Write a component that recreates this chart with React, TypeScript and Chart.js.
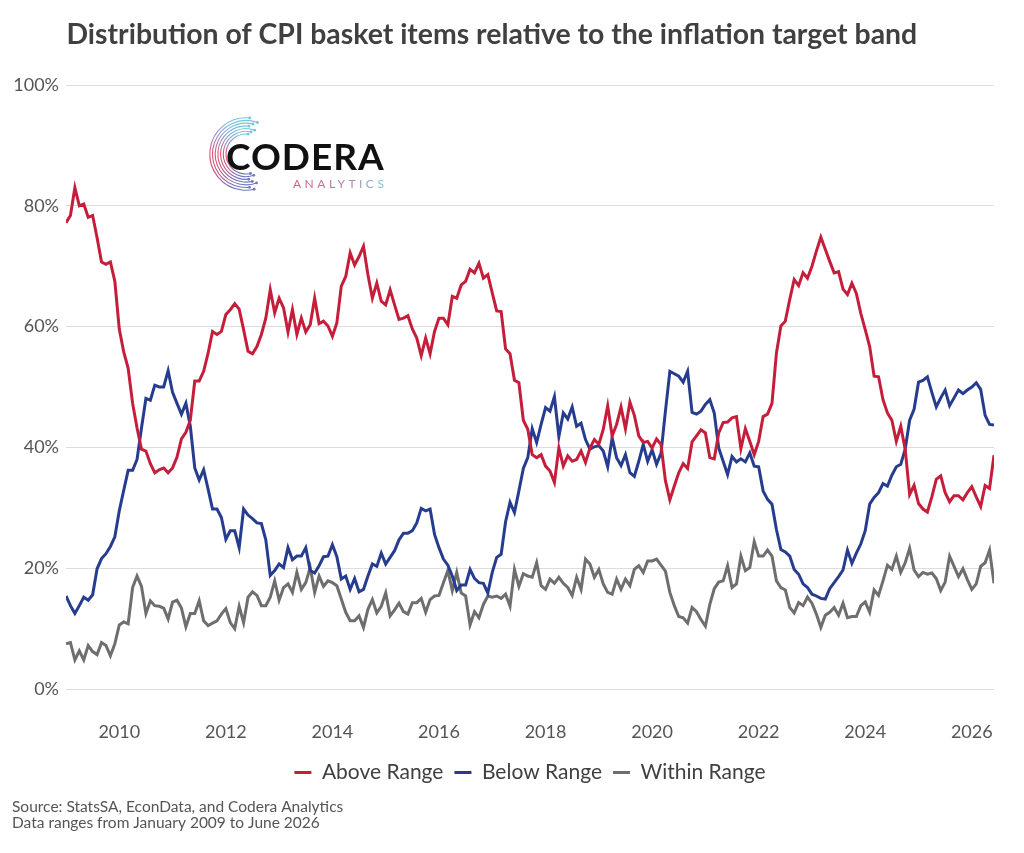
import React, { useEffect, useRef } from 'react';
import { Chart, registerables } from 'chart.js';

Chart.register(...registerables);

// Monthly data, January 2009 .. June 2026 (share of CPI basket items, %)
const startYear = 2009;

const aboveRange = [
  77.2, 78.4, 83.0, 80.0, 80.3, 78.1, 78.4, 74.7, 70.7, 70.3, 70.7, 67.5,
  59.6, 55.8, 53.1, 47.3, 43.2, 39.7, 39.4, 37.3, 35.8, 36.3, 36.6, 35.8,
  36.6, 38.4, 41.4, 42.5, 44.5, 51.0, 51.0, 52.6, 55.6, 59.2, 58.7, 59.2,
  62.0, 62.8, 63.8, 62.9, 59.5, 55.9, 55.5, 56.7, 58.7, 61.4, 66.1, 62.3,
  64.7, 63.1, 59.1, 62.8, 58.7, 61.4, 59.1, 60.3, 64.7, 60.5, 60.9, 60.1,
  58.4, 60.6, 66.7, 68.3, 72.2, 70.2, 71.6, 73.3, 68.6, 64.7, 67.2, 64.2,
  63.6, 66.1, 63.6, 61.2, 61.4, 61.8, 59.6, 58.1, 55.2, 58.1, 55.5, 59.2,
  61.4, 61.4, 60.3, 65.0, 64.7, 66.9, 67.5, 69.5, 68.9, 70.5, 68.0, 68.6,
  65.6, 62.6, 62.5, 56.3, 55.5, 51.1, 50.7, 44.5, 43.0, 38.8, 38.3, 38.8,
  36.9, 36.1, 34.2, 39.9, 36.9, 38.6, 37.7, 38.0, 39.4, 37.5, 39.9, 41.3,
  40.5, 43.0, 46.9, 41.9, 43.8, 46.7, 43.1, 47.5, 45.3, 41.9, 40.8, 41.0,
  39.9, 41.4, 40.5, 34.5, 31.3, 33.6, 35.8, 37.3, 36.5, 40.9, 41.9, 42.9,
  42.4, 38.3, 38.1, 42.4, 44.1, 44.2, 44.9, 45.1, 39.8, 43.1, 41.0, 38.8,
  41.0, 45.1, 45.5, 47.3, 55.6, 60.1, 60.9, 64.5, 67.8, 66.8, 68.9, 68.0,
  70.0, 72.5, 74.8, 72.8, 70.8, 68.9, 69.1, 66.2, 65.3, 67.2, 65.5, 62.2,
  59.5, 56.7, 51.8, 51.7, 47.9, 45.7, 44.5, 41.0, 43.5, 39.7, 32.2, 33.7,
  30.7, 29.8, 29.3, 31.8, 34.7, 35.3, 32.5, 31.0, 32.0, 32.0, 31.3, 32.5,
  33.5, 31.8, 30.2, 33.7, 33.2, 38.7,
];

const belowRange = [
  15.4, 13.8, 12.5, 13.8, 15.2, 14.7, 15.6, 19.9, 21.6, 22.4, 23.6, 25.2,
  29.5, 32.9, 36.2, 36.2, 38.0, 43.2, 48.1, 47.8, 50.3, 50.0, 50.0, 52.7,
  49.1, 47.3, 45.5, 47.3, 43.5, 36.6, 34.6, 36.3, 33.1, 29.8, 29.8, 28.4,
  24.8, 26.2, 26.2, 23.4, 29.8, 28.8, 28.2, 27.5, 27.4, 24.7, 18.8, 19.6,
  20.7, 20.1, 23.4, 21.4, 22.0, 22.0, 23.4, 19.6, 19.2, 20.4, 21.9, 22.0,
  23.9, 21.9, 18.2, 18.7, 16.5, 18.3, 16.1, 16.5, 18.7, 20.7, 20.3, 22.5,
  20.7, 21.8, 22.9, 24.7, 25.8, 25.8, 26.2, 27.5, 29.9, 29.5, 29.8, 25.6,
  23.4, 21.5, 20.5, 18.7, 16.3, 17.2, 17.2, 19.8, 18.3, 17.6, 17.5, 15.9,
  19.3, 21.8, 22.3, 27.7, 30.9, 29.2, 32.8, 36.5, 38.3, 43.1, 40.8, 43.8,
  46.6, 46.0, 48.4, 41.8, 45.7, 44.7, 46.7, 43.5, 44.0, 41.3, 39.7, 40.1,
  40.3, 39.4, 36.8, 41.6, 38.3, 37.0, 38.8, 35.8, 35.2, 37.7, 40.5, 37.7,
  39.6, 37.2, 39.0, 46.0, 52.6, 52.2, 51.8, 50.8, 52.6, 45.8, 45.5, 46.0,
  47.1, 47.9, 45.7, 39.9, 37.7, 35.5, 38.5, 37.6, 38.1, 37.6, 39.1, 36.9,
  36.8, 32.8, 31.4, 30.6, 26.4, 23.1, 22.7, 22.0, 19.8, 19.0, 17.4, 16.8,
  15.7, 15.4, 15.0, 14.9, 16.6, 17.6, 18.6, 19.7, 23.0, 20.8, 22.5, 24.0,
  26.2, 30.6, 31.7, 32.5, 34.0, 33.6, 35.4, 36.8, 37.2, 39.7, 44.5, 46.3,
  50.8, 51.1, 51.7, 49.1, 46.7, 48.2, 49.5, 46.9, 48.2, 49.5, 48.9, 49.5,
  50.0, 50.7, 49.6, 45.3, 43.8, 43.7,
];

const withinRange = [
  7.5, 7.7, 4.8, 6.3, 4.8, 7.2, 6.2, 5.7, 7.7, 7.2, 5.5, 7.5,
  10.6, 11.1, 10.8, 16.8, 18.7, 17.0, 12.5, 14.6, 13.8, 13.7, 13.4, 11.6,
  14.4, 14.7, 13.4, 10.3, 12.5, 12.5, 14.6, 11.3, 10.5, 10.9, 11.3, 12.4,
  13.3, 11.0, 10.0, 13.7, 11.0, 15.2, 16.1, 15.5, 13.8, 13.8, 15.2, 17.9,
  14.7, 16.8, 17.4, 16.0, 19.3, 16.5, 17.6, 20.1, 16.0, 18.7, 17.0, 17.9,
  17.6, 17.1, 14.9, 12.7, 11.3, 11.3, 12.1, 10.2, 13.2, 14.8, 12.6, 13.7,
  15.9, 12.1, 13.1, 14.2, 12.8, 12.4, 14.3, 14.3, 15.0, 12.7, 14.8, 15.4,
  15.5, 17.6, 19.6, 16.3, 19.3, 15.9, 15.4, 10.6, 12.8, 11.8, 14.0, 15.4,
  15.2, 15.4, 15.0, 15.7, 13.7, 19.8, 17.0, 19.1, 18.7, 18.5, 20.9, 17.1,
  16.5, 18.2, 17.5, 18.5, 17.5, 16.8, 15.5, 18.5, 16.5, 21.5, 20.7, 18.5,
  19.8, 17.4, 16.0, 15.7, 18.2, 16.5, 18.2, 17.1, 19.8, 20.4, 19.3, 21.2,
  21.2, 21.5, 20.5, 19.5, 16.0, 13.8, 12.0, 11.8, 10.9, 13.5, 12.8, 11.5,
  10.4, 14.0, 16.6, 17.7, 17.9, 20.4, 16.8, 17.4, 22.0, 19.6, 20.1, 24.4,
  22.0, 22.0, 23.0, 22.0, 17.9, 16.8, 16.4, 13.5, 12.6, 14.3, 13.8, 15.2,
  14.2, 12.4, 10.2, 12.2, 12.7, 13.5, 12.2, 14.2, 11.8, 12.0, 12.0, 13.8,
  14.4, 12.7, 16.4, 15.5, 17.9, 20.5, 19.8, 22.0, 19.3, 20.9, 23.3, 19.7,
  18.6, 19.3, 19.0, 19.2, 18.3, 16.3, 17.7, 22.0, 20.3, 18.6, 19.9, 18.1,
  16.5, 17.4, 20.3, 20.9, 23.0, 17.5,
];

const seriesNames = ['Above Range', 'Below Range', 'Within Range'];
const seriesColors = ['#c41e3a', '#263c8e', '#6e6e6e'];
const yTickValues = [0, 20, 40, 60, 80, 100];
const xTickYears = [2010, 2012, 2014, 2016, 2018, 2020, 2022, 2024, 2026];

const titleText = 'Distribution of CPI basket items relative to the inflation target band';
const sourceLines = [
  'Source: StatsSA, EconData, and Codera Analytics',
  'Data ranges from January 2009 to June 2026',
];

const FONT = 'Lato, "Noto Sans", "DejaVu Sans", sans-serif';

const toPoints = (arr: number[]) => arr.map((v, i) => ({ x: i, y: v }));

const decorPlugin = {
  id: 'decor',
  afterDraw(chart: any) {
    const ctx: CanvasRenderingContext2D = chart.ctx;
    ctx.save();
    // Title
    ctx.font = `bold 28.4px ${FONT}`;
    ctx.fillStyle = '#404040';
    ctx.textAlign = 'left';
    ctx.textBaseline = 'alphabetic';
    ctx.fillText(titleText, 58.5, 35.5);

    // Source
    ctx.font = `15.5px ${FONT}`;
    ctx.fillStyle = '#555555';
    ctx.textBaseline = 'middle';
    ctx.fillText(sourceLines[0], 4, 799);
    ctx.fillText(sourceLines[1], 4, 815);

    // Logo: arcs
    const cx = 238;
    const cy = 146;
    const radii = [20, 22.7, 25.4, 28.1, 30.8, 33.5, 36.2];
    radii.forEach((r, k) => {
      const g = ctx.createLinearGradient(0, cy - r, 0, cy + r);
      g.addColorStop(0, '#6fc8e0');
      g.addColorStop(0.25, '#9a86c8');
      g.addColorStop(0.5, '#e0566e');
      g.addColorStop(0.8, '#c05a86');
      g.addColorStop(1, '#6a78c0');
      ctx.strokeStyle = g;
      ctx.lineWidth = 1.1;
      const a0 = ((-84 + (k % 3) * 7) * Math.PI) / 180;
      const a1 = ((84 - ((k + 1) % 3) * 7) * Math.PI) / 180;
      ctx.beginPath();
      ctx.arc(cx, cy, r, a0, a1, true);
      ctx.stroke();
      ctx.fillStyle = g;
      [a0, a1].forEach((a) => {
        ctx.beginPath();
        ctx.arc(cx + Math.cos(a) * r, cy + Math.sin(a) * r, 1.4, 0, Math.PI * 2);
        ctx.fill();
      });
    });

    // Logo: text
    ctx.textAlign = 'left';
    ctx.textBaseline = 'alphabetic';
    ctx.font = `bold 37px ${FONT}`;
    ctx.fillStyle = '#111111';
    (ctx as any).letterSpacing = '1px';
    ctx.fillText('CODERA', 218, 162);
    ctx.font = `12px ${FONT}`;
    (ctx as any).letterSpacing = '3.5px';
    const lg = ctx.createLinearGradient(285, 0, 378, 0);
    lg.addColorStop(0, '#e0607c');
    lg.addColorStop(0.5, '#c078a8');
    lg.addColorStop(1, '#78c8dc');
    ctx.fillStyle = lg;
    ctx.fillText('ANALYTICS', 285, 180);
    (ctx as any).letterSpacing = '0px';
    ctx.restore();
  },
};

export default function App() {
  const canvasRef = useRef<HTMLCanvasElement | null>(null);

  useEffect(() => {
    if (!canvasRef.current) return;
    const seriesData = [aboveRange, belowRange, withinRange];
    const chart = new Chart(canvasRef.current, {
      type: 'line',
      data: {
        datasets: seriesData.map((arr, k) => ({
          label: seriesNames[k],
          data: toPoints(arr),
          borderColor: seriesColors[k],
          backgroundColor: seriesColors[k],
          borderWidth: 3,
          pointRadius: 0,
          pointHoverRadius: 0,
          tension: 0,
          fill: false,
        })),
      },
      options: {
        animation: false,
        responsive: true,
        maintainAspectRatio: false,
        layout: { padding: { top: 77, right: 22, left: 0, bottom: 52 } },
        scales: {
          x: {
            type: 'linear',
            min: 0,
            max: aboveRange.length - 1,
            afterBuildTicks: (s: any) => {
              s.ticks = xTickYears.map((yr) => ({ value: (yr - startYear) * 12 }));
            },
            afterFit: (s: any) => {
              s.height = 62;
            },
            ticks: {
              callback: (v: any) => String(startYear + Math.round(Number(v) / 12)),
              color: '#555555',
              font: { family: FONT, size: 18 },
              padding: 2,
              maxRotation: 0,
              autoSkip: false,
            },
            grid: { display: false, drawTicks: true, tickLength: 30 },
            border: { display: false },
          },
          y: {
            min: 0,
            max: 100,
            afterBuildTicks: (s: any) => {
              s.ticks = yTickValues.map((v) => ({ value: v }));
            },
            afterFit: (s: any) => {
              s.width = 58;
            },
            ticks: {
              callback: (v: any) => `${v}%`,
              color: '#555555',
              font: { family: FONT, size: 18 },
              padding: 7,
            },
            grid: { color: '#dddddd', lineWidth: 1, drawTicks: false },
            border: { display: false },
          },
        },
        plugins: {
          title: { display: false },
          tooltip: { enabled: false },
          legend: {
            position: 'bottom',
            fullSize: false,
            labels: {
              usePointStyle: true,
              pointStyle: 'line',
              pointStyleWidth: 17,
              boxHeight: 3,
              color: '#404040',
              font: { family: FONT, size: 21 },
              padding: 11,
            },
          },
        },
      },
      plugins: [decorPlugin],
    } as any);
    return () => chart.destroy();
  }, []);

  return (
    <div style={{ width: 1008, height: 837, position: 'relative' }}>
      <canvas ref={canvasRef} />
    </div>
  );
}
